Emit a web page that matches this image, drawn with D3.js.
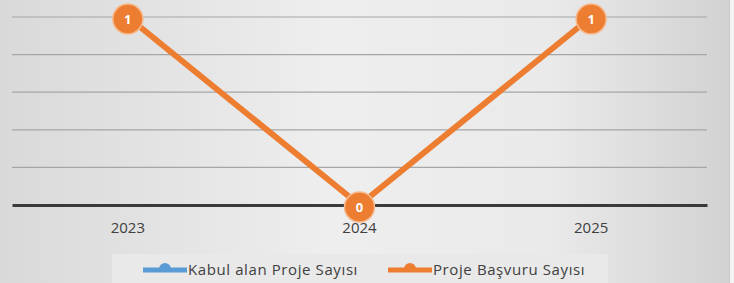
<!DOCTYPE html>
<html>
<head>
<meta charset="utf-8">
<style>
  body { margin: 0; background: #fff; }
  svg { display: block; font-family: "Open Sans", "Noto Sans", sans-serif; }
</style>
</head>
<body>
<svg id="chart"></svg>
<script src="https://cdn.jsdelivr.net/npm/d3@7"></script>
<script>
  const years = ["2023", "2024", "2025"]
  const kabulValues = [null, null, null]   // no visible points
  const basvuruValues = [1, 0, 1]
  const seriesNames = ["Kabul alan Proje Sayısı", "Proje Başvuru Sayısı"]
  const yTicks = [0, 0.2, 0.4, 0.6, 0.8, 1]

  const colors = { blue: "#5b9bd5", orange: "#ed7d31" }

  const W = 734, H = 283
  const plot = { left: 12, right: 707, top: 17, bottom: 205 }

  const svg = d3.select("#chart").attr("width", W).attr("height", H)

  // background: grey frame, lighter in the middle
  const defs = svg.append("defs")
  const bg = defs.append("linearGradient").attr("id", "bg")
  bg.append("stop").attr("offset", "0%").attr("stop-color", "#d9d9d9")
  bg.append("stop").attr("offset", "45%").attr("stop-color", "#eeeeee")
  bg.append("stop").attr("offset", "75%").attr("stop-color", "#eaeaea")
  bg.append("stop").attr("offset", "100%").attr("stop-color", "#d2d2d2")

  svg.append("rect").attr("width", W).attr("height", H).attr("fill", "#f4f4f4")
  svg.append("rect").attr("width", 729).attr("height", H).attr("fill", "url(#bg)")
  svg.append("line").attr("x1", 729.5).attr("x2", 729.5).attr("y1", 0).attr("y2", H)
    .attr("stroke", "#c8c8c8")

  const x = d3.scaleBand().domain(years).range([plot.left, plot.right])
  const y = d3.scaleLinear().domain([0, 1]).range([plot.bottom, plot.top])

  // gridlines
  svg.append("g").selectAll("line")
    .data(yTicks.filter(d => d > 0))
    .join("line")
      .attr("x1", plot.left).attr("x2", plot.right)
      .attr("y1", d => y(d)).attr("y2", d => y(d))
      .attr("stroke", "#a6a6a6").attr("stroke-width", 1.2)

  // x axis
  const xAxis = svg.append("g")
    .attr("transform", `translate(0, ${y(0)})`)
    .call(d3.axisBottom(x).tickSize(0).tickPadding(17))
  xAxis.select(".domain").attr("stroke", "#3a3a3a").attr("stroke-width", 3)
  xAxis.selectAll("text").attr("font-size", 15).attr("fill", "#404040")
    .attr("font-family", "Open Sans, Noto Sans, sans-serif")

  const cx = d => x(d) + x.bandwidth() / 2
  const line = d3.line()
    .defined(d => d.v != null)
    .x(d => cx(d.year))
    .y(d => y(d.v))

  function drawSeries(values, color) {
    const data = years.map((yr, i) => ({ year: yr, v: values[i] }))
    svg.append("path").datum(data)
      .attr("fill", "none").attr("stroke", color)
      .attr("stroke-width", 6).attr("stroke-linejoin", "round")
      .attr("d", line)
    const pts = svg.append("g").selectAll("g")
      .data(data.filter(d => d.v != null))
      .join("g")
        .attr("transform", d => `translate(${cx(d.year)}, ${y(d.v) + 2})`)
    pts.append("circle").attr("r", 15)
      .attr("fill", color).attr("stroke", "#f6b98c").attr("stroke-width", 1.5)
    pts.append("text")
      .attr("text-anchor", "middle").attr("dy", "0.36em")
      .attr("font-size", 13).attr("font-weight", "bold").attr("fill", "#fff")
      .text(d => d.v)
  }

  drawSeries(kabulValues, colors.blue)
  drawSeries(basvuruValues, colors.orange)

  // legend
  const legend = svg.append("g")
  legend.append("rect").attr("x", 112).attr("y", 254).attr("width", 496).attr("height", 30)
    .attr("fill", "#e9e9e9")
  const items = legend.selectAll("g.item")
    .data([{ name: seriesNames[0], color: colors.blue, x: 143 },
           { name: seriesNames[1], color: colors.orange, x: 388 }])
    .join("g").attr("class", "item")
      .attr("transform", d => `translate(${d.x}, 270)`)
  items.append("line").attr("x1", 0).attr("x2", 44)
    .attr("stroke", d => d.color).attr("stroke-width", 5)
  items.append("path").attr("d", "M16,-1 A6,6 0 0 1 28,-1 Z")
    .attr("fill", d => d.color)
  items.append("text").attr("x", 45).attr("dy", "0.35em")
    .attr("font-size", 15).attr("letter-spacing", 0.6).attr("fill", "#404040")
    .text(d => d.name)
</script>
</body>
</html>
